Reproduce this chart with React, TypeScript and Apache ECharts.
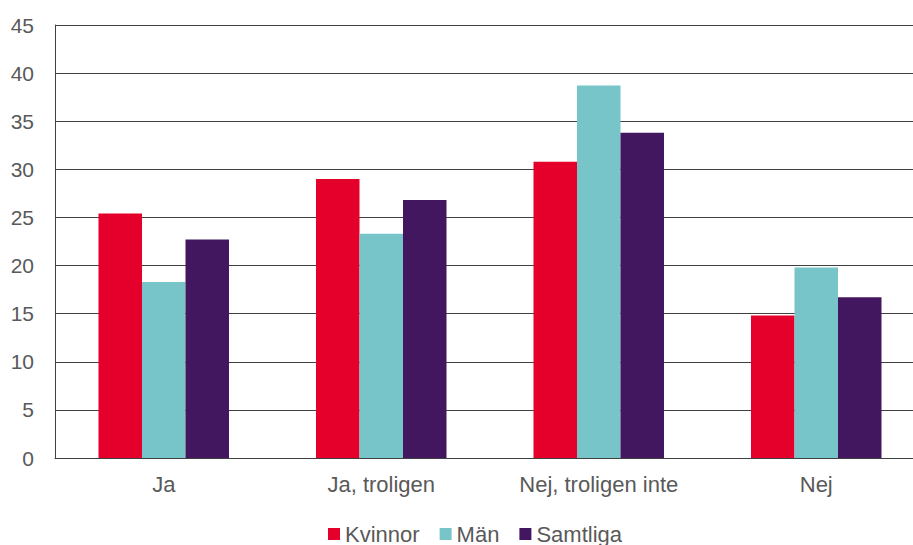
import React, { useEffect, useRef } from "react";
import * as echarts from "echarts";

const categories = ["Ja", "Ja, troligen", "Nej, troligen inte", "Nej"];
const seriesNames = ["Kvinnor", "Män", "Samtliga"];
const kvinnor = [25.4, 29.0, 30.8, 14.8];
const man = [18.3, 23.3, 38.7, 19.8];
const samtliga = [22.7, 26.8, 33.8, 16.7];
const colors = ["#E4002B", "#77C5C8", "#42175F"];

export default function App() {
  const ref = useRef<HTMLDivElement>(null);
  useEffect(() => {
    const chart = echarts.init(ref.current!, null, { renderer: "svg" });
    const data = [kvinnor, man, samtliga];
    chart.setOption({
      animation: false,
      textStyle: { fontFamily: "Liberation Sans, Arial, sans-serif" },
      grid: {
        left: 55,
        width: 870,
        top: 25,
        height: 433,
        containLabel: false,
        outerBoundsMode: "none",
      },
      legend: {
        top: 523,
        left: 328,
        padding: 0,
        itemWidth: 12,
        itemHeight: 12,
        itemGap: 20,
        icon: "rect",
        textStyle: { fontSize: 22, color: "#595959" },
        data: seriesNames,
      },
      xAxis: {
        type: "category",
        data: categories,
        axisLine: { lineStyle: { color: "#404040", width: 1 } },
        axisTick: { show: false },
        axisLabel: { fontSize: 22, color: "#595959", margin: 15 },
      },
      yAxis: {
        type: "value",
        min: 0,
        max: 45,
        interval: 5,
        axisLine: { show: true, lineStyle: { color: "#404040", width: 1 } },
        axisTick: { show: false },
        splitLine: { lineStyle: { color: "#404040", width: 1 } },
        axisLabel: { fontSize: 21, color: "#595959", margin: 21 },
      },
      series: seriesNames.map((name, i) => ({
        name,
        type: "bar",
        data: data[i],
        barGap: "0%",
        barCategoryGap: "40%",
        itemStyle: { color: colors[i] },
      })),
    });
    return () => chart.dispose();
  }, []);
  return <div ref={ref} style={{ width: 913, height: 545, position: "absolute", left: 0, top: 0 }} />;
}
